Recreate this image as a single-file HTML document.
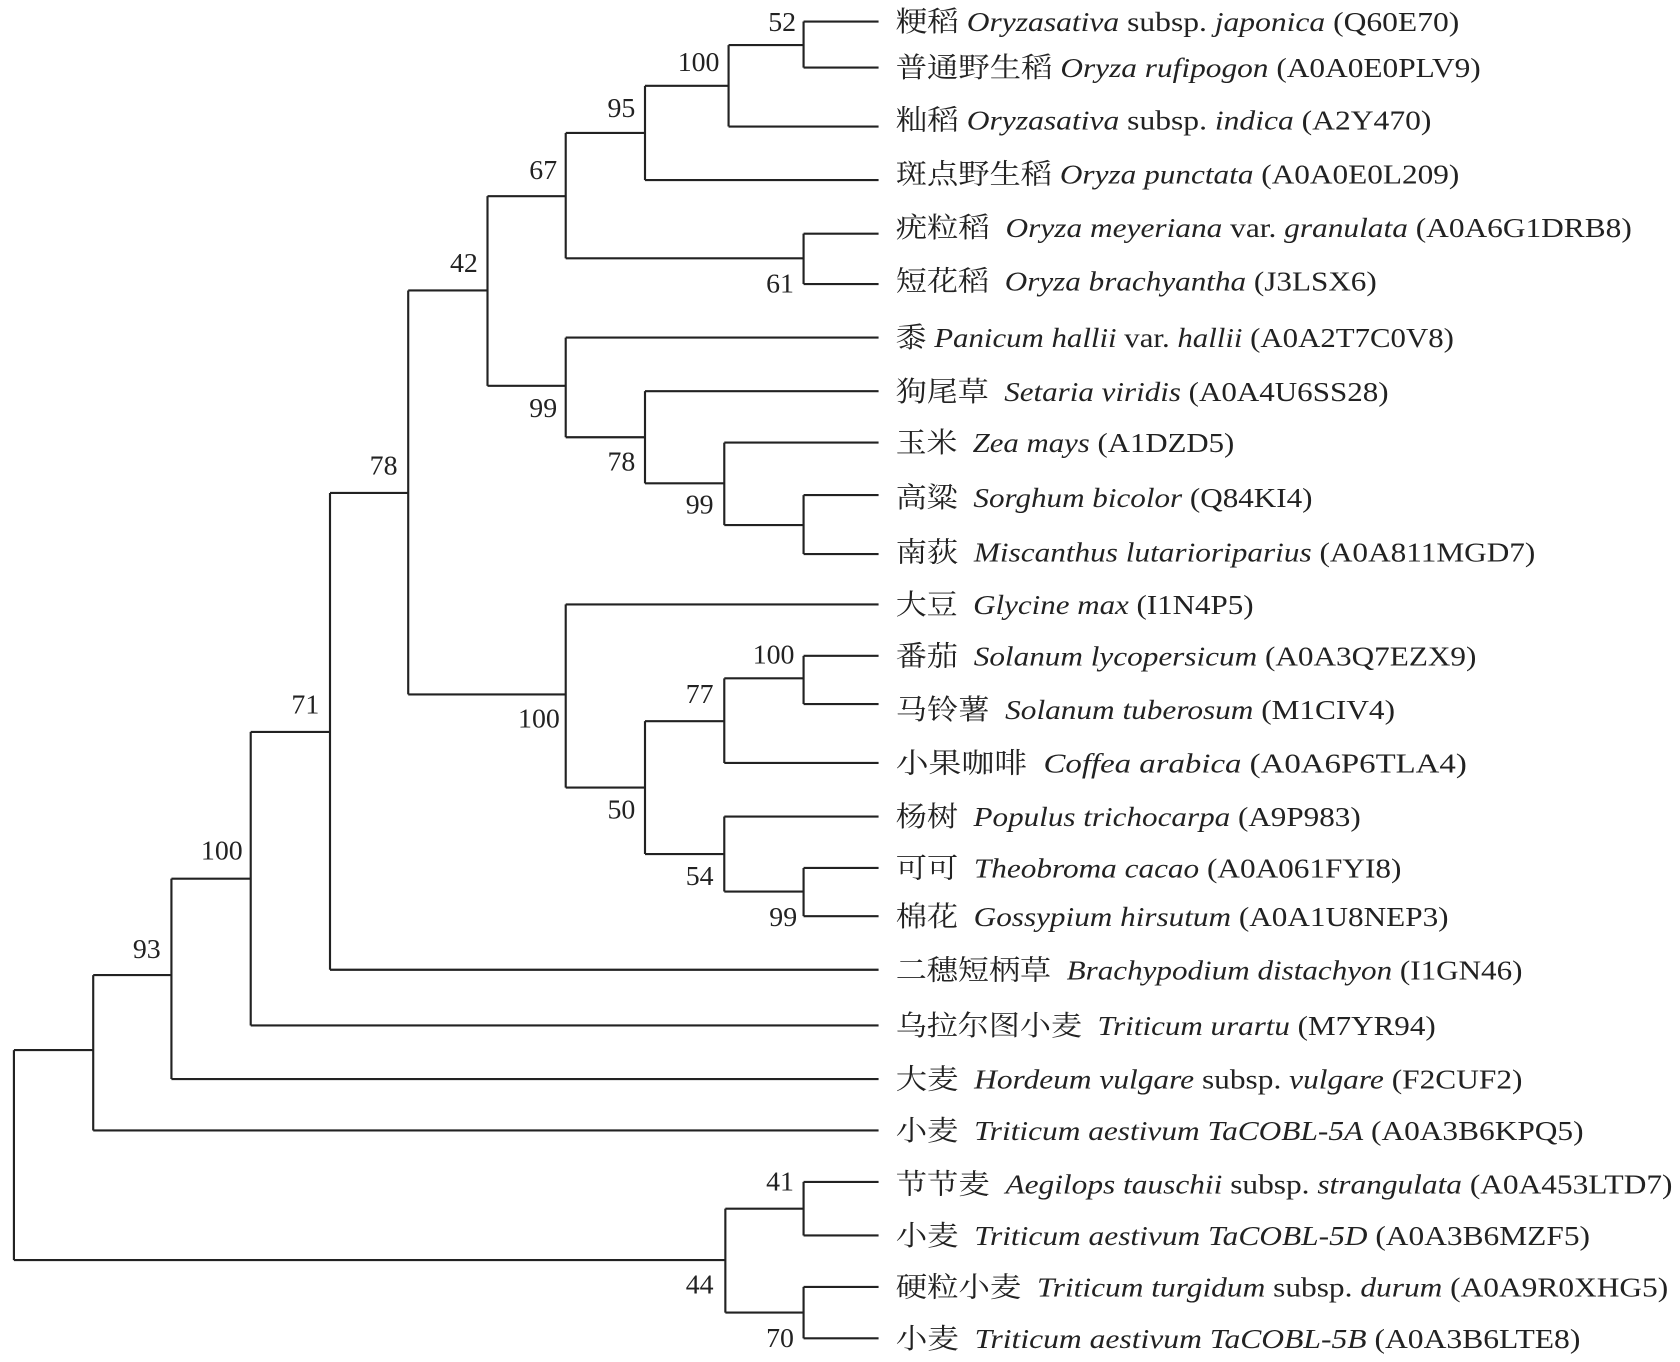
<!DOCTYPE html>
<html><head><meta charset="utf-8"><style>
html,body{margin:0;padding:0;background:#fff}
svg{display:block}
text{font-family:"Liberation Serif","Noto Serif CJK SC",serif;font-size:26px;fill:#222;white-space:pre}
.n{text-anchor:middle;font-size:25px}
</style></head><body>
<svg width="1680" height="1362" viewBox="0 0 1568 1271" xmlns="http://www.w3.org/2000/svg">
<g stroke="#222" stroke-width="2" fill="none">
<path d="M750 20H820M750 63H820M680 118H820M602 168H820M750 218H820M750 265H820M528 315H820M602 365H820M676 413H820M750 462H820M750 517H820M528 564H820M750 612H820M750 657H820M676 712H820M676 762H820M750 810H820M750 855H820M308 905H820M234 957H820M160 1007H820M87 1055H820M750 1103H820M750 1153H820M750 1201H820M750 1249H820"/>
<path d="M750 20V63M680 42H750M680 42V118M602 80H680M602 80V168M528 124H602M750 218V265M528 241H750M528 124V241M455 183H528"/>
<path d="M750 462V517M676 490H750M676 413V490M602 451H676M602 365V451M528 408H602M528 315V408M455 360H528M455 183V360M381 271H455"/>
<path d="M750 612V657M676 633H750M676 633V712M602 673H676M750 810V855M676 832H750M676 762V832M602 797H676M602 673V797M528 735H602M528 564V735M381 648H528M381 271V648"/>
<path d="M308 460H381M308 460V905M234 683H308M234 683V957M160 820H234M160 820V1007M87 910H160M87 910V1055M13 980H87"/>
<path d="M750 1103V1153M677 1128H750M750 1201V1249M677 1225H750M677 1128V1225M13 1176H677M13 980V1176"/>
</g>
<g class="n">
<text x="730" y="29">52</text><text x="652" y="66">100</text><text x="580" y="109">95</text><text x="507" y="167">67</text><text x="728" y="273">61</text><text x="433" y="254">42</text>
<text x="507" y="389">99</text><text x="580" y="439">78</text><text x="653" y="479">99</text><text x="358" y="443">78</text>
<text x="722" y="619">100</text><text x="653" y="656">77</text><text x="503" y="679">100</text><text x="580" y="764">50</text><text x="653" y="826">54</text><text x="731" y="864">99</text>
<text x="285" y="666">71</text><text x="207" y="802">100</text><text x="137" y="894">93</text>
<text x="728" y="1111">41</text><text x="653" y="1207">44</text><text x="728" y="1257">70</text>
</g>
<g>
<text x="836" y="29" textLength="526" lengthAdjust="spacingAndGlyphs">粳稻 <tspan font-style="italic">Oryzasativa</tspan> subsp. <tspan font-style="italic">japonica</tspan> (Q60E70)</text>
<text x="836" y="72" textLength="546" lengthAdjust="spacingAndGlyphs">普通野生稻 <tspan font-style="italic">Oryza rufipogon</tspan> (A0A0E0PLV9)</text>
<text x="836" y="121" textLength="500" lengthAdjust="spacingAndGlyphs">籼稻 <tspan font-style="italic">Oryzasativa</tspan> subsp. <tspan font-style="italic">indica</tspan> (A2Y470)</text>
<text x="836" y="171" textLength="526" lengthAdjust="spacingAndGlyphs">斑点野生稻 <tspan font-style="italic">Oryza punctata</tspan> (A0A0E0L209)</text>
<text x="836" y="221" textLength="687" lengthAdjust="spacingAndGlyphs">疣粒稻  <tspan font-style="italic">Oryza meyeriana</tspan> var. <tspan font-style="italic">granulata</tspan> (A0A6G1DRB8)</text>
<text x="836" y="271" textLength="449" lengthAdjust="spacingAndGlyphs">短花稻  <tspan font-style="italic">Oryza brachyantha</tspan> (J3LSX6)</text>
<text x="836" y="324" textLength="521" lengthAdjust="spacingAndGlyphs">黍 <tspan font-style="italic">Panicum hallii</tspan> var. <tspan font-style="italic">hallii</tspan> (A0A2T7C0V8)</text>
<text x="836" y="374" textLength="460" lengthAdjust="spacingAndGlyphs">狗尾草  <tspan font-style="italic">Setaria viridis</tspan> (A0A4U6SS28)</text>
<text x="836" y="422" textLength="316" lengthAdjust="spacingAndGlyphs">玉米  <tspan font-style="italic">Zea mays</tspan> (A1DZD5)</text>
<text x="836" y="473" textLength="389" lengthAdjust="spacingAndGlyphs">高粱  <tspan font-style="italic">Sorghum bicolor</tspan> (Q84KI4)</text>
<text x="836" y="524" textLength="597" lengthAdjust="spacingAndGlyphs">南荻  <tspan font-style="italic">Miscanthus lutarioriparius</tspan> (A0A811MGD7)</text>
<text x="836" y="573" textLength="334" lengthAdjust="spacingAndGlyphs">大豆  <tspan font-style="italic">Glycine max</tspan> (I1N4P5)</text>
<text x="836" y="621" textLength="542" lengthAdjust="spacingAndGlyphs">番茄  <tspan font-style="italic">Solanum lycopersicum</tspan> (A0A3Q7EZX9)</text>
<text x="836" y="671" textLength="466" lengthAdjust="spacingAndGlyphs">马铃薯  <tspan font-style="italic">Solanum tuberosum</tspan> (M1CIV4)</text>
<text x="836" y="721" textLength="533" lengthAdjust="spacingAndGlyphs">小果咖啡  <tspan font-style="italic">Coffea arabica</tspan> (A0A6P6TLA4)</text>
<text x="836" y="771" textLength="434" lengthAdjust="spacingAndGlyphs">杨树  <tspan font-style="italic">Populus trichocarpa</tspan> (A9P983)</text>
<text x="836" y="819" textLength="472" lengthAdjust="spacingAndGlyphs">可可  <tspan font-style="italic">Theobroma cacao</tspan> (A0A061FYI8)</text>
<text x="836" y="864" textLength="516" lengthAdjust="spacingAndGlyphs">棉花  <tspan font-style="italic">Gossypium hirsutum</tspan> (A0A1U8NEP3)</text>
<text x="836" y="914" textLength="585" lengthAdjust="spacingAndGlyphs">二穗短柄草  <tspan font-style="italic">Brachypodium distachyon</tspan> (I1GN46)</text>
<text x="836" y="966" textLength="504" lengthAdjust="spacingAndGlyphs">乌拉尔图小麦  <tspan font-style="italic">Triticum urartu</tspan> (M7YR94)</text>
<text x="836" y="1016" textLength="585" lengthAdjust="spacingAndGlyphs">大麦  <tspan font-style="italic">Hordeum vulgare</tspan> subsp. <tspan font-style="italic">vulgare</tspan> (F2CUF2)</text>
<text x="836" y="1064" textLength="642" lengthAdjust="spacingAndGlyphs">小麦  <tspan font-style="italic">Triticum aestivum TaCOBL-5A</tspan> (A0A3B6KPQ5)</text>
<text x="836" y="1114" textLength="725" lengthAdjust="spacingAndGlyphs">节节麦  <tspan font-style="italic">Aegilops tauschii</tspan> subsp. <tspan font-style="italic">strangulata</tspan> (A0A453LTD7)</text>
<text x="836" y="1162" textLength="648" lengthAdjust="spacingAndGlyphs">小麦  <tspan font-style="italic">Triticum aestivum TaCOBL-5D</tspan> (A0A3B6MZF5)</text>
<text x="836" y="1210" textLength="721" lengthAdjust="spacingAndGlyphs">硬粒小麦  <tspan font-style="italic">Triticum turgidum</tspan> subsp. <tspan font-style="italic">durum</tspan> (A0A9R0XHG5)</text>
<text x="836" y="1258" textLength="639" lengthAdjust="spacingAndGlyphs">小麦  <tspan font-style="italic">Triticum aestivum TaCOBL-5B</tspan> (A0A3B6LTE8)</text>
</g>
</svg>
</body></html>
